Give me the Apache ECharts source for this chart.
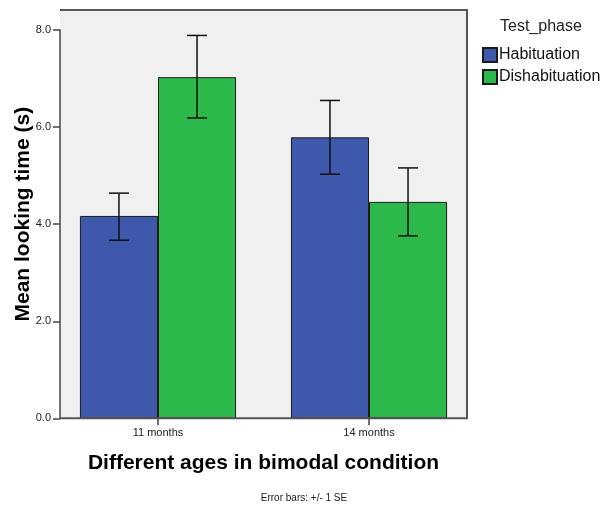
<!DOCTYPE html>
<html>
<head>
<meta charset="utf-8">
<script src="https://cdn.jsdelivr.net/npm/echarts@6/dist/echarts.min.js"></script>
<style>
  html, body { margin: 0; padding: 0; background: #ffffff; }
  #chart { width: 605px; height: 505px; }
</style>
</head>
<body>
<div id="chart"></div>
<script>
// Mean looking time by age group and test phase, with +/- 1 SE error bars
const categories = ['11 months', '14 months'];
const phases = ['Habituation', 'Dishabituation'];
const habituationMean = [4.17, 5.79];
const dishabituationMean = [7.03, 4.46];
const habituationLow = [3.67, 5.03];
const habituationHigh = [4.64, 6.55];
const dishabituationLow = [6.19, 3.76];
const dishabituationHigh = [7.89, 5.16];
const yTicks = [0, 2, 4, 6, 8];

const colors = ['#3e58ac', '#2db84b'];
const FONT = 'Liberation Sans, Arial, sans-serif';

// layout of the plot frame
const frame = { left: 60, top: 10, right: 467, bottom: 418.3 };
const gridLeft = 52.5, gridWidth = 422, gridTop = 30.1;
const barFrac = 0.37;

const chart = echarts.init(document.getElementById('chart'), null, { renderer: 'canvas' });

function errorBarRenderer(sign) {
  return function (params, api) {
    const cat = api.value(0);
    const band = api.size([1, 0])[0];
    const off = sign * band * barFrac / 2;
    const hi = api.coord([cat, api.value(2)]);
    const lo = api.coord([cat, api.value(1)]);
    const x = hi[0] + off;
    const cap = 10;
    const style = { stroke: '#111', lineWidth: 1.5 };
    return {
      type: 'group',
      children: [
        { type: 'line', shape: { x1: x, y1: hi[1], x2: x, y2: lo[1] }, style },
        { type: 'line', shape: { x1: x - cap, y1: hi[1], x2: x + cap, y2: hi[1] }, style },
        { type: 'line', shape: { x1: x - cap, y1: lo[1], x2: x + cap, y2: lo[1] }, style }
      ]
    };
  };
}

const option = {
  animation: false,
  backgroundColor: '#ffffff',
  textStyle: { fontFamily: FONT },
  title: {
    text: 'Test_phase',
    left: 500, top: 19, padding: 0,
    textStyle: { fontFamily: FONT, fontSize: 16, fontWeight: 'normal', color: '#222' }
  },
  legend: {
    data: phases,
    orient: 'vertical',
    left: 482, top: 47, padding: 0,
    itemWidth: 14, itemHeight: 14, itemGap: 6,
    icon: 'rect',
    textStyle: { fontFamily: FONT, fontSize: 16, color: '#111', padding: [0, 0, 0, -3] }
  },
  grid: { left: gridLeft, width: gridWidth, top: gridTop, bottom: 505 - frame.bottom, containLabel: false },
  xAxis: {
    type: 'category',
    data: categories,
    axisLine: { show: false },
    axisTick: { show: true, alignWithLabel: true, length: 7, lineStyle: { color: '#444', width: 1.5 } },
    axisLabel: { fontFamily: FONT, fontSize: 11, color: '#222', margin: 9 },
    splitLine: { show: false }
  },
  yAxis: {
    type: 'value',
    min: yTicks[0], max: yTicks[yTicks.length - 1], interval: 2,
    offset: gridLeft - frame.left,
    axisLine: { show: true, lineStyle: { color: '#444', width: 1.5 } },
    axisTick: { show: true, length: 7, lineStyle: { color: '#444', width: 1.5 } },
    axisLabel: { fontFamily: FONT, fontSize: 11, color: '#222', margin: 9, formatter: v => v.toFixed(1) },
    splitLine: { show: false }
  },
  graphic: [
    {
      type: 'rect', z: -10, silent: true,
      shape: { x: frame.left, y: frame.top, width: frame.right - frame.left, height: frame.bottom - frame.top },
      style: { fill: '#f0f0f0' }
    },
    {
      type: 'polyline', z: 100, silent: true,
      shape: { points: [[frame.left, frame.top], [frame.right, frame.top], [frame.right, frame.bottom], [frame.left, frame.bottom]] },
      style: { stroke: '#555', lineWidth: 2, fill: null }
    },
    {
      type: 'text', silent: true,
      x: 23, y: (frame.top + frame.bottom) / 2, rotation: Math.PI / 2,
      style: { text: 'Mean looking time (s)', fontFamily: FONT, fontSize: 21, fontWeight: 'bold', fill: '#000', align: 'center', verticalAlign: 'middle' }
    },
    {
      type: 'text', silent: true,
      x: (frame.left + frame.right) / 2, y: 463,
      style: { text: 'Different ages in bimodal condition', fontFamily: FONT, fontSize: 21, fontWeight: 'bold', fill: '#000', align: 'center', verticalAlign: 'middle' }
    },
    {
      type: 'text', silent: true,
      x: 304, y: 498,
      style: { text: 'Error bars: +/- 1 SE', fontFamily: FONT, fontSize: 10, fill: '#222', align: 'center', verticalAlign: 'middle' }
    }
  ],
  series: [
    {
      name: phases[0], type: 'bar', data: habituationMean,
      barWidth: (barFrac * 100) + '%', barGap: '0%',
      itemStyle: { color: colors[0], borderColor: '#1a1a1a', borderWidth: 1 }
    },
    {
      name: phases[1], type: 'bar', data: dishabituationMean,
      barWidth: (barFrac * 100) + '%', barGap: '0%',
      itemStyle: { color: colors[1], borderColor: '#1a1a1a', borderWidth: 1 }
    },
    {
      type: 'custom', z: 10, silent: true,
      renderItem: errorBarRenderer(-1),
      encode: { x: 0, y: [1, 2] },
      data: categories.map((c, i) => [i, habituationLow[i], habituationHigh[i]])
    },
    {
      type: 'custom', z: 10, silent: true,
      renderItem: errorBarRenderer(1),
      encode: { x: 0, y: [1, 2] },
      data: categories.map((c, i) => [i, dishabituationLow[i], dishabituationHigh[i]])
    }
  ]
};

chart.setOption(option);
</script>
</body>
</html>
